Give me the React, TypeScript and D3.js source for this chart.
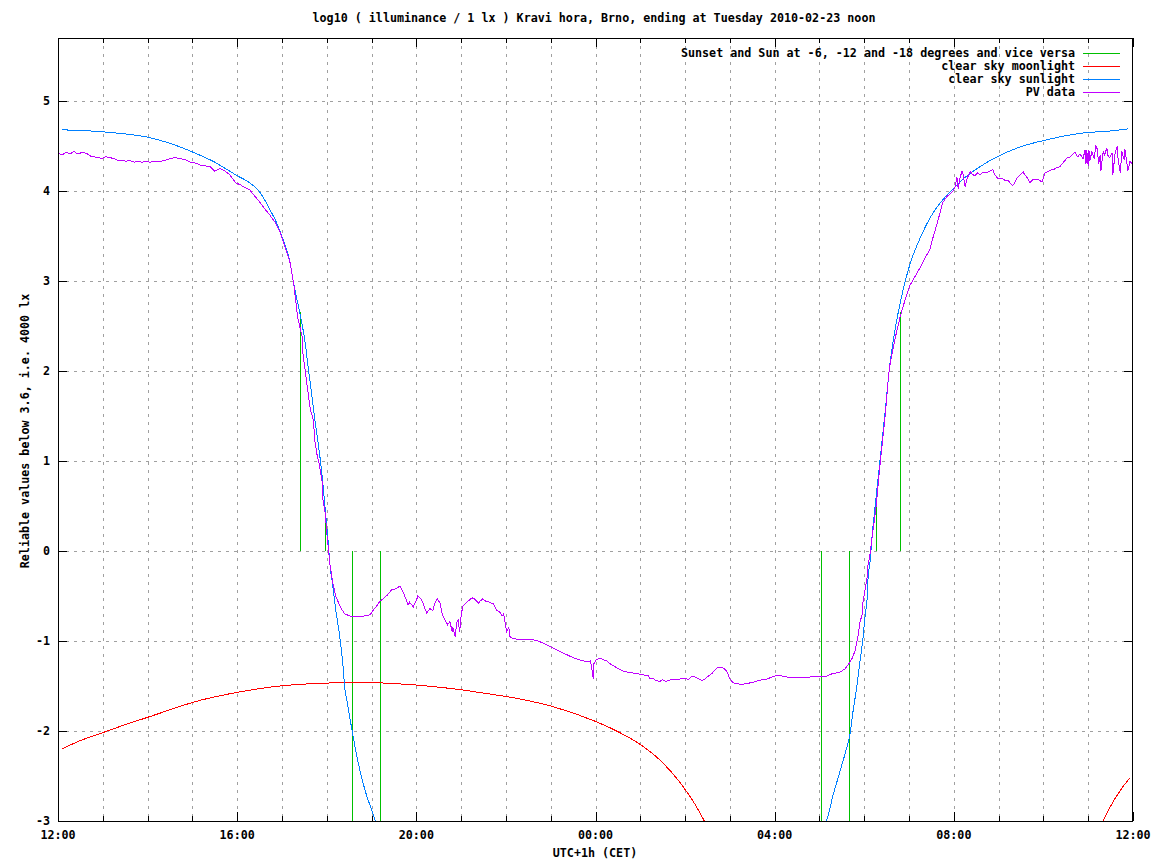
import React from "react";
import * as d3 from "d3";

// minutes since 12:00 (Monday) , log10 illuminance
const pvData: [number, number][] = [
  [0,4.42],[5,4.40],[11,4.43],[16,4.41],[21,4.44],[27,4.41],[32,4.43],[38,4.42],[43,4.39],[48,4.38],
  [54,4.37],[59,4.36],[64,4.38],[70,4.37],[75,4.36],[80,4.34],[86,4.34],[91,4.33],[96,4.34],[102,4.32],
  [107,4.33],[113,4.32],[118,4.33],[123,4.32],[130,4.33],[137,4.33],[143,4.34],[150,4.36],[157,4.37],[163,4.36],
  [170,4.35],[177,4.32],[184,4.31],[190,4.29],[197,4.28],[204,4.27],[210,4.22],[217,4.25],[224,4.22],[230,4.18],
  [238,4.09],[244,4.07],[250,4.04],[257,4.01],[264,3.94],[271,3.87],[277,3.80],[284,3.73],[291,3.65],[297,3.55],
  [304,3.38],[311,3.2],[316,2.95],[321,2.6],[327,2.38],[328,2.2],[334,1.82],[338,1.57],[342,1.46],[344,1.23],
  [347,1.07],[350,0.96],[354,0.76],[355,0.57],[358,0.42],[360,0.2],[362,0.04],[364,-0.13],[368,-0.35],[372,-0.5],
  [378,-0.62],[384,-0.70],[394,-0.73],[405,-0.73],[411,-0.72],[418,-0.71],[422,-0.66],[427,-0.61],[431,-0.56],[437,-0.52],
  [441,-0.49],[447,-0.43],[453,-0.42],[458,-0.39],[462,-0.45],[465,-0.51],[469,-0.60],[471,-0.57],[476,-0.62],[480,-0.55],
  [482,-0.50],[485,-0.52],[488,-0.56],[492,-0.65],[494,-0.69],[498,-0.64],[502,-0.66],[505,-0.58],[508,-0.53],[512,-0.58],
  [514,-0.68],[516,-0.73],[518,-0.76],[522,-0.82],[525,-0.78],[528,-0.90],[529,-0.85],[532,-0.95],[534,-0.80],[536,-0.77],
  [538,-0.90],[540,-0.72],[542,-0.62],[546,-0.58],[549,-0.56],[553,-0.53],[556,-0.52],[560,-0.55],[563,-0.58],[565,-0.56],
  [569,-0.53],[573,-0.56],[576,-0.56],[580,-0.58],[583,-0.58],[585,-0.62],[588,-0.66],[592,-0.68],[595,-0.72],[597,-0.70],
  [599,-0.80],[601,-0.90],[604,-0.85],[605,-0.95],[609,-0.97],[615,-0.98],[628,-0.98],[639,-0.99],[646,-1.01],[652,-1.03],
  [659,-1.06],[668,-1.10],[676,-1.13],[686,-1.17],[695,-1.20],[703,-1.22],[710,-1.23],[713,-1.22],[715,-1.30],[717,-1.42],
  [718,-1.25],[721,-1.21],[726,-1.19],[731,-1.21],[735,-1.22],[739,-1.25],[743,-1.27],[749,-1.30],[753,-1.32],[759,-1.34],
  [766,-1.35],[773,-1.36],[780,-1.37],[786,-1.38],[790,-1.38],[793,-1.42],[797,-1.41],[801,-1.44],[806,-1.45],[810,-1.43],
  [814,-1.45],[817,-1.44],[822,-1.43],[829,-1.43],[835,-1.42],[840,-1.41],[844,-1.43],[848,-1.40],[851,-1.39],[856,-1.41],
  [863,-1.44],[867,-1.42],[869,-1.40],[873,-1.38],[876,-1.36],[880,-1.32],[883,-1.30],[887,-1.29],[889,-1.29],[893,-1.31],
  [896,-1.34],[900,-1.42],[904,-1.46],[907,-1.47],[914,-1.48],[918,-1.48],[924,-1.47],[931,-1.46],[938,-1.44],[944,-1.43],
  [951,-1.42],[956,-1.40],[964,-1.38],[970,-1.39],[976,-1.40],[983,-1.40],[990,-1.40],[997,-1.41],[1003,-1.41],[1011,-1.39],
  [1021,-1.39],[1030,-1.39],[1038,-1.36],[1047,-1.35],[1054,-1.31],[1058,-1.27],[1064,-1.19],[1068,-1.10],[1070,-1.01],[1072,-0.93],
  [1074,-0.80],[1077,-0.71],[1078,-0.58],[1081,-0.43],[1084,-0.29],[1085,-0.16],[1088,-0.02],[1090,0.12],[1096,0.5],[1101,0.95],
  [1108,1.5],[1112,1.9],[1114,2.05],[1121,2.35],[1128,2.6],[1135,2.8],[1141,2.95],[1148,3.05],[1155,3.15],[1161,3.25],
  [1168,3.35],[1172,3.48],[1179,3.68],[1185,3.87],[1191,3.94],[1198,3.99],[1202,4.05],[1204,4.16],[1206,4.02],[1208,4.14],
  [1211,4.22],[1212,4.21],[1215,4.05],[1218,4.14],[1222,4.22],[1224,4.19],[1228,4.17],[1232,4.20],[1235,4.18],[1239,4.21],
  [1244,4.20],[1248,4.22],[1252,4.24],[1255,4.18],[1259,4.14],[1265,4.14],[1268,4.12],[1273,4.12],[1275,4.09],[1279,4.06],
  [1282,4.10],[1285,4.15],[1289,4.18],[1293,4.21],[1295,4.18],[1298,4.15],[1302,4.09],[1306,4.13],[1313,4.13],[1318,4.10],
  [1322,4.20],[1329,4.23],[1334,4.24],[1338,4.26],[1342,4.27],[1346,4.31],[1352,4.37],[1356,4.38],[1358,4.40],[1362,4.43],
  [1366,4.38],[1369,4.41],[1373,4.36],[1376,4.46],[1377,4.30],[1378,4.46],[1380,4.28],[1381,4.45],[1382,4.33],[1385,4.44],
  [1388,4.36],[1390,4.50],[1392,4.47],[1394,4.30],[1396,4.40],[1397,4.22],[1400,4.44],[1402,4.40],[1405,4.48],[1406,4.40],
  [1409,4.37],[1412,4.42],[1413,4.18],[1416,4.42],[1419,4.50],[1420,4.36],[1423,4.20],[1425,4.44],[1428,4.35],[1429,4.47],
  [1432,4.30],[1433,4.22],[1436,4.33],[1439,4.30],
];

const sunData: [number, number][] = [
  [5,4.68],[56,4.66],[83,4.64],[119,4.60],[150,4.53],[181,4.43],[210,4.32],[230,4.22],[240,4.17],[257,4.09],
  [271,3.98],[277,3.90],[284,3.79],[291,3.68],[297,3.56],[304,3.40],[311,3.2],[315,3.0],[324,2.64],[331,2.32],
  [335,2.05],[340,1.73],[344,1.46],[348,1.23],[354,0.82],[358,0.46],[362,0.09],[364,-0.13],[368,-0.38],[372,-0.65],
  [378,-0.99],[382,-1.3],[384,-1.51],[387,-1.66],[394,-2.0],[402,-2.35],[411,-2.65],[421,-2.9],[427,-3.05],
];

const sunMorning: [number, number][] = [
  [1027,-3.05],[1031,-2.96],[1038,-2.72],[1045,-2.52],[1052,-2.32],[1057,-2.17],[1061,-2.03],[1065,-1.78],[1070,-1.51],[1074,-1.24],
  [1078,-0.99],[1081,-0.73],[1084,-0.51],[1085,-0.32],[1088,-0.10],[1090,0.12],[1094,0.45],[1101,1.0],[1108,1.55],[1114,2.05],
  [1121,2.45],[1128,2.75],[1135,3.0],[1141,3.18],[1155,3.48],[1168,3.70],[1181,3.86],[1195,3.99],[1212,4.13],[1235,4.27],
  [1258,4.38],[1289,4.49],[1325,4.57],[1369,4.64],[1413,4.67],[1433,4.69],
];

const moonData: [number, number][] = [
  [5,-2.2],[29,-2.11],[56,-2.03],[83,-1.95],[123,-1.84],[190,-1.66],[244,-1.565],[297,-1.50],[351,-1.47],[405,-1.46],
  [431,-1.465],[454,-1.475],[481,-1.49],[501,-1.505],[518,-1.52],[538,-1.54],[559,-1.565],[579,-1.59],[599,-1.615],[619,-1.645],
  [659,-1.72],[719,-1.89],[753,-2.02],[780,-2.15],[806,-2.32],[833,-2.57],[853,-2.81],[869,-3.05],
];

const moonRise: [number, number][] = [
  [1396,-3.06],[1409,-2.85],[1423,-2.66],[1436,-2.52],
];

// sunset / twilight markers: minute, impulse height
const sunEvents: [number, number][] = [
  [324,2.66],[358,0.46],[394,-3.5],[431,-3.5],[1022,-3.5],[1060,-3.5],[1096,0.5],[1128,2.66],
];

const yTicks = [-3, -2, -1, 0, 1, 2, 3, 4, 5];
const xMajorTicks = [0, 240, 480, 720, 960, 1200, 1440];
const xMajorLabels = ["12:00", "16:00", "20:00", "00:00", "04:00", "08:00", "12:00"];
const xMinorTicks = d3.range(0, 1441, 60);

const legendLabels = [
  "Sunset and Sun at -6, -12 and -18 degrees and vice versa",
  "clear sky moonlight",
  "clear sky sunlight",
  "PV data",
];
const legendColors = ["#00c000", "#ff0000", "#0080ff", "#c000ff"];

const W = 1151, H = 863;
const L = 58, R = 1133, T = 38, B = 821;
const FONT = "'DejaVu Sans Mono', monospace";

export default function App() {
  const x = d3.scaleLinear().domain([0, 1440]).range([L, R]);
  const y = d3.scaleLinear().domain([-3, 5.7]).range([B, T]);
  const line = d3.line<[number, number]>().x((d) => x(d[0])).y((d) => y(d[1]));
  const smooth = d3.line<[number, number]>().x((d) => x(d[0])).y((d) => y(d[1])).curve(d3.curveMonotoneX);
  const px = (v: number) => Math.round(v) + 0.5;

  return (
    <svg width={W} height={H} style={{ position: "absolute", left: 0, top: 0, background: "#fff" }}
      fontFamily={FONT} fontWeight="bold" fontSize={11.7}>
      <defs>
        <clipPath id="plot"><rect x={L} y={T} width={R - L} height={B - T} /></clipPath>
      </defs>
      <rect x={0} y={0} width={W} height={H} fill="#fff" />
      {/* grid */}
      <g stroke="#a0a0a0" strokeWidth={1} strokeDasharray="3,5" shapeRendering="crispEdges">
        {xMinorTicks.slice(1, -1).map((t) => (
          <line key={"gx" + t} x1={px(x(t))} x2={px(x(t))} y1={T} y2={B} />
        ))}
        {yTicks.slice(1).map((t) => (
          <line key={"gy" + t} x1={L} x2={R} y1={px(y(t))} y2={px(y(t))} />
        ))}
      </g>
      {/* data */}
      <g clipPath="url(#plot)" fill="none" strokeWidth={1}>
        <g stroke="#00c000" shapeRendering="crispEdges">
          {sunEvents.map((d, i) => (
            <line key={"ev" + i} x1={px(x(d[0]))} x2={px(x(d[0]))} y1={y(0)} y2={y(d[1])} />
          ))}
        </g>
        <path d={smooth(moonData) || ""} stroke="#ff0000" shapeRendering="crispEdges" />
        <path d={smooth(moonRise) || ""} stroke="#ff0000" shapeRendering="crispEdges" />
        <path d={smooth(sunData) || ""} stroke="#0080ff" shapeRendering="crispEdges" />
        <path d={smooth(sunMorning) || ""} stroke="#0080ff" shapeRendering="crispEdges" />
        <path d={line(pvData) || ""} stroke="#c000ff" shapeRendering="crispEdges" />
      </g>
      {/* ticks */}
      <g stroke="#000" strokeWidth={1} shapeRendering="crispEdges">
        {yTicks.map((t) => (
          <g key={"yt" + t}>
            <line x1={L} x2={L + 9} y1={px(y(t))} y2={px(y(t))} />
            <line x1={R - 9} x2={R} y1={px(y(t))} y2={px(y(t))} />
          </g>
        ))}
        {xMinorTicks.map((t) => {
          const major = t % 240 === 0;
          const len = major ? 9 : 5;
          return (
            <g key={"xt" + t}>
              <line x1={px(x(t))} x2={px(x(t))} y1={B} y2={B - len} />
              <line x1={px(x(t))} x2={px(x(t))} y1={T} y2={T + len} />
            </g>
          );
        })}
        <rect x={L + 0.5} y={T + 0.5} width={R - L - 1} height={B - T} fill="none" />
      </g>
      {/* tick labels */}
      <g fill="#000">
        {yTicks.map((t) => (
          <text key={"yl" + t} x={50} y={y(t) + 4} textAnchor="end">{t < 0 ? "-" + Math.abs(t) : String(t)}</text>
        ))}
        {xMajorTicks.map((t, i) => (
          <text key={"xl" + t} x={x(t)} y={839} textAnchor="middle">{xMajorLabels[i]}</text>
        ))}
        <text x={595} y={857} textAnchor="middle">UTC+1h (CET)</text>
        <text x={594} y={22} textAnchor="middle">log10 ( illuminance / 1 lx ) Kravi hora, Brno, ending at Tuesday 2010-02-23 noon</text>
        <text transform="translate(29,431) rotate(-90)" textAnchor="middle">Reliable values below 3.6, i.e. 4000 lx</text>
      </g>
      {/* legend */}
      <g>
        {legendLabels.map((lab, i) => (
          <text key={"lt" + i} x={1075} y={57 + i * 13} textAnchor="end" fill="#000">{lab}</text>
        ))}
        {legendColors.map((c, i) => (
          <path key={"ls" + i} d={`M1083,${53.5 + i * 13}H1120`} stroke={c} strokeWidth={1} fill="none" />
        ))}
      </g>
    </svg>
  );
}
